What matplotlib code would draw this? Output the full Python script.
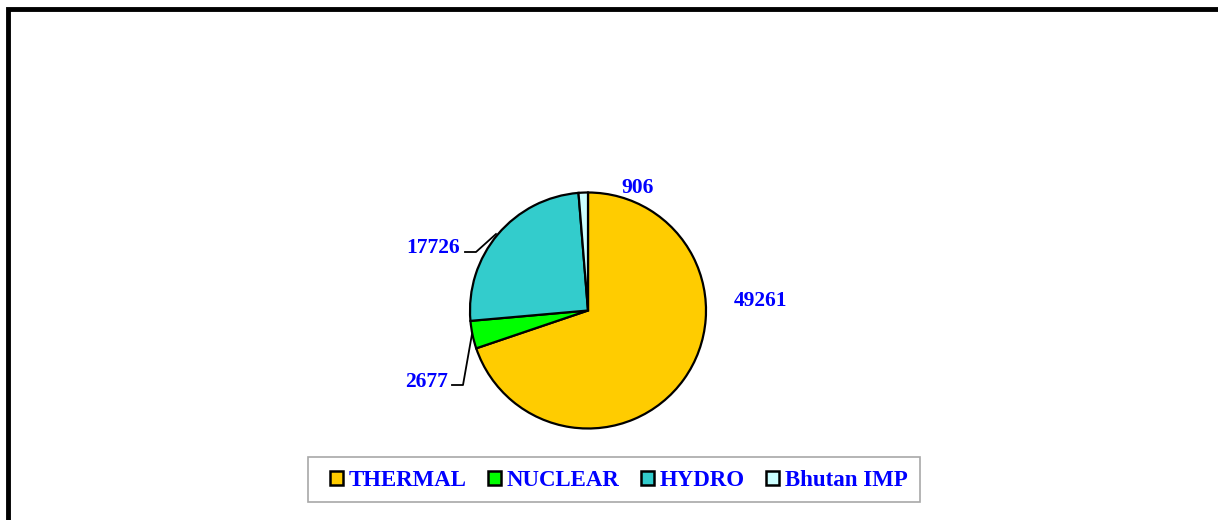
import matplotlib.pyplot as plt
from matplotlib.patches import Rectangle, Patch

sources = ["THERMAL", "NUCLEAR", "HYDRO", "Bhutan IMP"]
values = [49261, 2677, 17726, 906]
colors = ["#FFCC00", "#00FF00", "#33CCCC", "#CCFFFF"]

W, H = 1218, 520
fig = plt.figure(figsize=(W / 100, H / 100), dpi=100)

# thick outer frame, runs off the right and bottom edges
fig.patches.append(Rectangle((7.5 / W, -0.05), 1.2, (H - 9) / H + 0.05,
                             transform=fig.transFigure, fill=False,
                             edgecolor="black", linewidth=3.5))

cx, cy, r = 588, 310.5, 118
ax = fig.add_axes([(cx - r) / W, (H - cy - r) / H, 2 * r / W, 2 * r / H])
ax.pie(values, colors=colors, startangle=90, counterclock=False,
       wedgeprops=dict(edgecolor="black", linewidth=1.6))
ax.set_xlim(-1, 1)
ax.set_ylim(-1, 1)
ax.axis("off")


def px(x, y):
    return (x - cx) / r, (cy - y) / r


lab_font = dict(family="Liberation Serif", weight="bold", size=15.5, color="#0000FF")
labels = {
    "THERMAL": (760, 301, "center"),
    "NUCLEAR": (448, 382, "right"),
    "HYDRO": (460, 248, "right"),
    "Bhutan IMP": (638, 188, "center"),
}
for name, val in zip(sources, values):
    x, y, ha = labels[name]
    ax.text(*px(x, y), str(val), ha=ha, va="center", clip_on=False, **lab_font)

# leader lines
for pts in ([(465, 252), (476, 252), (496, 234)],
            [(452, 385), (463, 385), (472, 334)]):
    xs, ys = zip(*[px(a, b) for a, b in pts])
    ax.plot(xs, ys, color="black", linewidth=1.3, clip_on=False)

# legend frame drawn separately so its size matches
fig.patches.append(Rectangle((308 / W, 1 - 502 / H), 612 / W, 45 / H,
                             transform=fig.transFigure, fill=False,
                             edgecolor="#A8A8A8", linewidth=1.2))
handles = [Patch(facecolor=c, edgecolor="black", linewidth=1.8) for c in colors]
leg = fig.legend(handles, sources, loc="center", bbox_to_anchor=(619 / W, 1 - 481 / H),
                 ncol=4, frameon=False,
                 handlelength=0.55, handleheight=0.55, handletextpad=0.25,
                 columnspacing=0.95, borderpad=0, borderaxespad=0,
                 prop=dict(family="Liberation Serif", weight="bold", size=16.5))
for t in leg.get_texts():
    t.set_color("#0000FF")

fig.savefig("out.png", dpi=100)
